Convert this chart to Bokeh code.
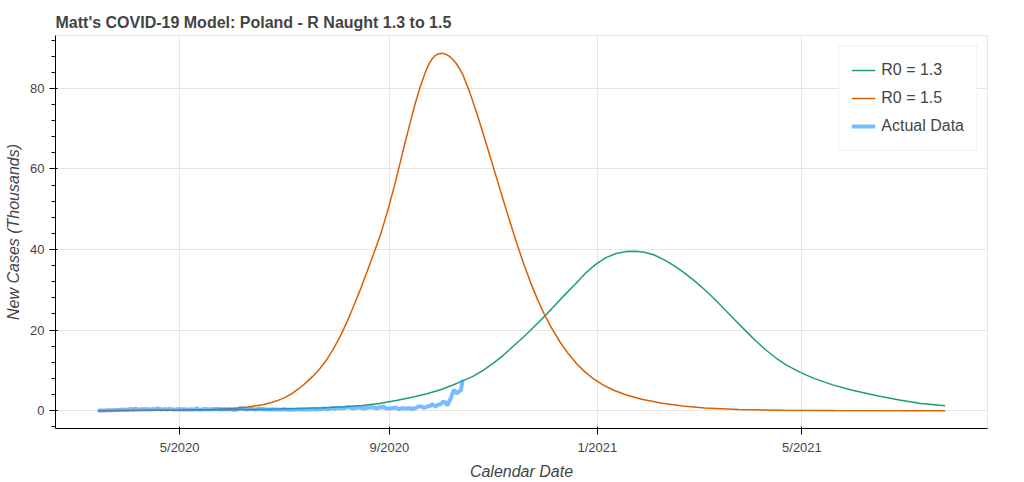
import pandas as pd
from bokeh.plotting import figure
from bokeh.models import DatetimeTickFormatter, MonthsTicker
from bokeh.embed import file_html
from bokeh.resources import INLINE

# ---- data (thousands of new cases) ----
r13_dates = ["2020-03-14", "2020-04-15", "2020-05-15", "2020-06-15", "2020-07-10",
             "2020-07-25", "2020-08-06", "2020-08-16", "2020-08-26", "2020-09-05",
             "2020-09-15", "2020-09-23", "2020-10-01", "2020-10-08", "2020-10-14",
             "2020-10-20", "2020-10-26", "2020-11-01", "2020-11-07", "2020-11-13",
             "2020-11-19", "2020-11-25", "2020-12-01", "2020-12-07", "2020-12-13",
             "2020-12-19", "2020-12-25", "2020-12-31", "2021-01-06", "2021-01-12",
             "2021-01-18", "2021-01-23", "2021-01-28", "2021-02-03", "2021-02-09",
             "2021-02-15", "2021-02-21", "2021-02-27", "2021-03-05", "2021-03-11",
             "2021-03-17", "2021-03-23", "2021-03-29", "2021-04-04", "2021-04-10",
             "2021-04-16", "2021-04-22", "2021-04-30", "2021-05-08", "2021-05-19",
             "2021-05-30", "2021-06-14", "2021-06-28", "2021-07-10", "2021-07-24"]
r13_values = [0.0, 0.08, 0.15, 0.3, 0.5,
              0.7, 0.95, 1.3, 1.8, 2.5,
              3.4, 4.2, 5.2, 6.3, 7.4,
              8.5, 10.0, 11.8, 13.8, 16.1,
              18.4, 20.9, 23.4, 26.1, 28.8,
              31.4, 34.1, 36.3, 38.0, 39.0,
              39.5, 39.6, 39.4, 38.7, 37.5,
              36.0, 34.2, 32.2, 30.0, 27.6,
              25.0, 22.4, 19.8, 17.3, 15.0,
              13.0, 11.3, 9.5, 8.0, 6.4,
              5.1, 3.7, 2.6, 1.8, 1.2]

r15_dates = ["2020-03-14", "2020-04-13", "2020-05-01", "2020-05-20", "2020-06-01",
             "2020-06-10", "2020-06-18", "2020-06-24", "2020-06-28", "2020-07-02",
             "2020-07-06", "2020-07-10", "2020-07-14", "2020-07-18", "2020-07-22",
             "2020-07-26", "2020-07-30", "2020-08-03", "2020-08-07", "2020-08-11",
             "2020-08-15", "2020-08-19", "2020-08-23", "2020-08-27", "2020-08-31",
             "2020-09-04", "2020-09-07", "2020-09-10", "2020-09-13", "2020-09-16",
             "2020-09-19", "2020-09-22", "2020-09-24", "2020-09-26", "2020-09-28",
             "2020-09-30", "2020-10-02", "2020-10-04", "2020-10-06", "2020-10-08",
             "2020-10-10", "2020-10-12", "2020-10-14", "2020-10-18", "2020-10-22",
             "2020-10-26", "2020-10-30", "2020-11-03", "2020-11-07", "2020-11-11",
             "2020-11-15", "2020-11-19", "2020-11-23", "2020-11-27", "2020-12-01",
             "2020-12-05", "2020-12-10", "2020-12-15", "2020-12-20", "2020-12-25",
             "2020-12-30", "2021-01-05", "2021-01-11", "2021-01-18", "2021-01-27",
             "2021-02-08", "2021-02-20", "2021-03-05", "2021-03-25", "2021-04-20",
             "2021-05-20", "2021-07-24"]
r15_values = [0.0, 0.08, 0.15, 0.3, 0.55,
              0.9, 1.4, 2.0, 2.6, 3.3,
              4.3, 5.5, 6.9, 8.5, 10.3,
              12.5, 15.2, 18.3, 21.9, 25.9,
              30.1, 34.6, 39.2, 44.0, 49.6,
              55.9, 61.0, 66.2, 71.2, 76.0,
              80.3, 83.9, 85.9, 87.3, 88.2,
              88.6, 88.7, 88.5, 88.0, 87.3,
              86.3, 85.0, 83.5, 79.2, 74.2,
              68.8, 63.2, 57.6, 52.0, 46.5,
              41.2, 36.2, 31.6, 27.5, 23.8,
              20.6, 17.1, 14.1, 11.6, 9.5,
              7.8, 6.2, 5.0, 3.9, 2.85,
              1.85, 1.15, 0.65, 0.28, 0.09,
              0.02, 0.0]

actual_start = "2020-03-14"
actual_values = [
    # Mar 14-31
    0.04, 0.01, 0.03, 0.03, 0.05, 0.07, 0.07, 0.11, 0.10, 0.12, 0.15, 0.15, 0.17, 0.25, 0.22, 0.19, 0.26, 0.24,
    # Apr
    0.24, 0.39, 0.44, 0.24, 0.48, 0.31, 0.25, 0.36, 0.37, 0.38, 0.32, 0.40, 0.26, 0.27, 0.38, 0.34, 0.36, 0.55,
    0.46, 0.26, 0.31, 0.38, 0.33, 0.28, 0.46, 0.38, 0.24, 0.31, 0.34, 0.38,
    # May
    0.27, 0.34, 0.26, 0.32, 0.30, 0.29, 0.31, 0.33, 0.29, 0.32, 0.60, 0.28, 0.24, 0.27, 0.33, 0.38, 0.37, 0.32,
    0.30, 0.32, 0.44, 0.32, 0.44, 0.40, 0.28, 0.37, 0.40, 0.37, 0.25, 0.42, 0.38,
    # Jun
    0.23, 0.29, 0.23, 0.29, 0.58, 0.58, 0.60, 0.41, 0.28, 0.36, 0.40, 0.39, 0.44, 0.31, 0.31, 0.41, 0.51, 0.36,
    0.38, 0.37, 0.31, 0.30, 0.29, 0.30, 0.32, 0.29, 0.26, 0.30, 0.19, 0.26,
    # Jul
    0.37, 0.30, 0.30, 0.23, 0.26, 0.19, 0.29, 0.30, 0.36, 0.32, 0.30, 0.30, 0.30, 0.26, 0.27, 0.29, 0.33, 0.36,
    0.33, 0.29, 0.34, 0.37, 0.42, 0.44, 0.58, 0.44, 0.34, 0.51, 0.62, 0.66, 0.44,
    # Aug
    0.66, 0.68, 0.55, 0.60, 0.64, 0.73, 0.81, 0.84, 0.83, 0.55, 0.60, 0.62, 0.73, 0.81, 0.73, 0.66, 0.55, 0.59,
    0.74, 0.81, 0.90, 0.79, 0.84, 0.58, 0.58, 0.89, 0.83, 0.90, 0.84, 0.58, 0.55,
    # Sep
    0.56, 0.60, 0.66, 0.71, 0.70, 0.46, 0.42, 0.57, 0.61, 0.60, 0.55, 0.52, 0.63, 0.41, 0.54, 0.60, 0.76, 1.00,
    1.00, 1.00, 0.74, 0.75, 0.98, 1.14, 1.14, 1.59, 1.31, 1.01, 1.33, 1.55,
    # Oct 1-14
    1.55, 1.97, 2.29, 1.93, 1.31, 2.24, 3.00, 4.28, 5.20, 4.40, 4.40, 4.80, 5.10, 7.70,
]

FONT = "Liberation Sans"

p = figure(width=992, height=482, x_axis_type="datetime",
           output_backend="svg", toolbar_location=None,
           min_border_left=55, min_border_top=35,
           title="Matt's COVID-19 Model: Poland - R Naught 1.3 to 1.5")

p.line(pd.to_datetime(r13_dates), r13_values, line_color="#1b9e77",
       line_width=1.5, legend_label="R0 = 1.3")
p.line(pd.to_datetime(r15_dates), r15_values, line_color="#d95f02",
       line_width=1.5, legend_label="R0 = 1.5")
actual_dates = pd.date_range(actual_start, periods=len(actual_values), freq="D")
p.line(actual_dates, actual_values, line_color="#1e90ff", line_alpha=0.6,
       line_width=4, legend_label="Actual Data")

p.title.text_font = FONT
p.title.text_font_size = "16px"
p.title.text_color = "#444444"
p.title.text_font_style = "bold"

p.xaxis.ticker = MonthsTicker(months=[0, 4, 8])
p.xaxis.formatter = DatetimeTickFormatter(months="%-m/%Y", days="%-m/%Y")
p.xaxis.minor_tick_line_color = None
p.xaxis.axis_label = "Calendar Date"
p.yaxis.axis_label = "New Cases (Thousands)"

for ax in (p.xaxis, p.yaxis):
    ax.axis_label_text_font = FONT
    ax.axis_label_text_font_size = "16px"
    ax.axis_label_text_font_style = "italic"
    ax.axis_label_text_color = "#444444"
    ax.major_label_text_font = FONT
    ax.major_label_text_font_size = "13px"
    ax.major_label_text_color = "#444444"

p.legend.location = "top_right"
p.legend.label_text_font = FONT
p.legend.label_text_font_size = "16px"
p.legend.label_text_color = "#444444"
p.legend.padding = 12
p.legend.spacing = 4
p.legend.label_height = 24
p.legend.glyph_height = 24
p.legend.glyph_width = 24
p.legend.label_standoff = 6

open("out.html", "w").write(file_html(p, INLINE))
